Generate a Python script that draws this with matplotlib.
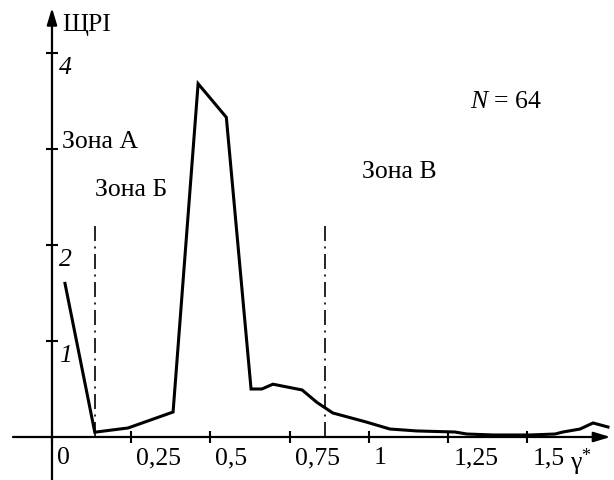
import matplotlib
matplotlib.use("Agg")
import matplotlib.pyplot as plt
from matplotlib.transforms import ScaledTranslation

plt.rcParams['font.family'] = ['Liberation Serif', 'DejaVu Serif']
plt.rcParams['mathtext.fontset'] = 'custom'
plt.rcParams['mathtext.rm'] = 'Liberation Serif'
plt.rcParams['mathtext.it'] = 'Liberation Serif:italic'

# curve
gamma = [0.041, 0.135, 0.240, 0.382, 0.461, 0.550, 0.628, 0.662, 0.697, 0.789,
         0.836, 0.886, 0.987, 1.066, 1.151, 1.271, 1.309, 1.391, 1.508, 1.587,
         1.612, 1.666, 1.707, 1.754]
pri = [1.60, 0.05, 0.094, 0.26, 3.68, 3.33, 0.50, 0.50, 0.55, 0.49,
       0.36, 0.25, 0.16, 0.083, 0.063, 0.052, 0.031, 0.021, 0.021, 0.031,
       0.052, 0.083, 0.146, 0.104]
zone_bounds = [0.136, 0.861]
zone_top = 2.2
x_ticks = [0, 0.25, 0.5, 0.75, 1, 1.25, 1.5]
x_labels = ['0', '0,25', '0,5', '0,75', '1', '1,25', '1,5']
y_ticks = [1, 2, 3, 4]
y_labels = ['1', '2', '', '4']

FS = 18.5

fig = plt.figure(figsize=(6.14, 4.8), dpi=100)
ax = fig.add_axes([0, 0, 1, 1])
ax.set_xlim(-0.164, 1.773)
ax.set_ylim(-0.448, 4.552)

for s in ax.spines.values():
    s.set_visible(False)
ax.spines['left'].set_position(('data', 0))
ax.spines['bottom'].set_position(('data', 0))

# axes with arrows
arrow = dict(arrowstyle='-|>,head_length=1.0,head_width=0.3', lw=1.6,
             color='k', shrinkA=0, shrinkB=0, mutation_scale=10)
ax.annotate('', xy=(1.762, 0), xytext=(-0.123, 0), arrowprops=arrow)
ax.annotate('', xy=(0, 4.47), xytext=(0, -0.448), arrowprops=arrow)

ax.tick_params(direction='inout', length=8.6, width=1.5, pad=3,
               labelsize=FS, left=True, bottom=True)
ax.set_xticks(x_ticks, x_labels)
shift = ScaledTranslation(5 / 100, 0, fig.dpi_scale_trans)
for lab in ax.get_xticklabels():
    lab.set_ha('left')
    lab.set_transform(lab.get_transform() + shift)
ax.set_yticks(y_ticks)
ax.tick_params(axis='y', labelleft=False)
yoff = ScaledTranslation(7 / 100, -4 / 100, fig.dpi_scale_trans)
for v, s in zip(y_ticks, y_labels):
    ax.text(0, v, s, transform=ax.transData + yoff, ha='left', va='top',
            fontsize=FS, style='italic')

ax.plot(gamma, pri, color='k', lw=2.2, solid_joinstyle='miter')
ax.vlines(zone_bounds, 0, zone_top, colors='k', lw=1.2,
          linestyles=[(0, (9, 3.3, 1.2, 3.3))])

ax.text(0.032, 4.29, 'ЩРІ', fontsize=FS, ha='left', va='center')
ax.text(0.032, 3.07, 'Зона А', fontsize=FS, ha='left', va='center')
ax.text(0.136, 2.57, 'Зона Б', fontsize=FS, ha='left', va='center')
ax.text(0.978, 2.76, 'Зона В', fontsize=FS, ha='left', va='center')
ax.text(1.319, 3.49, r'$\mathit{N}$ = 64', fontsize=FS, ha='left', va='center')
ax.text(1.634, 0, r'γ$^{*}$', fontsize=FS, ha='left', va='top',
        transform=ax.transData + ScaledTranslation(0, -10 / 100, fig.dpi_scale_trans))

fig.savefig('out.png', dpi=100)
